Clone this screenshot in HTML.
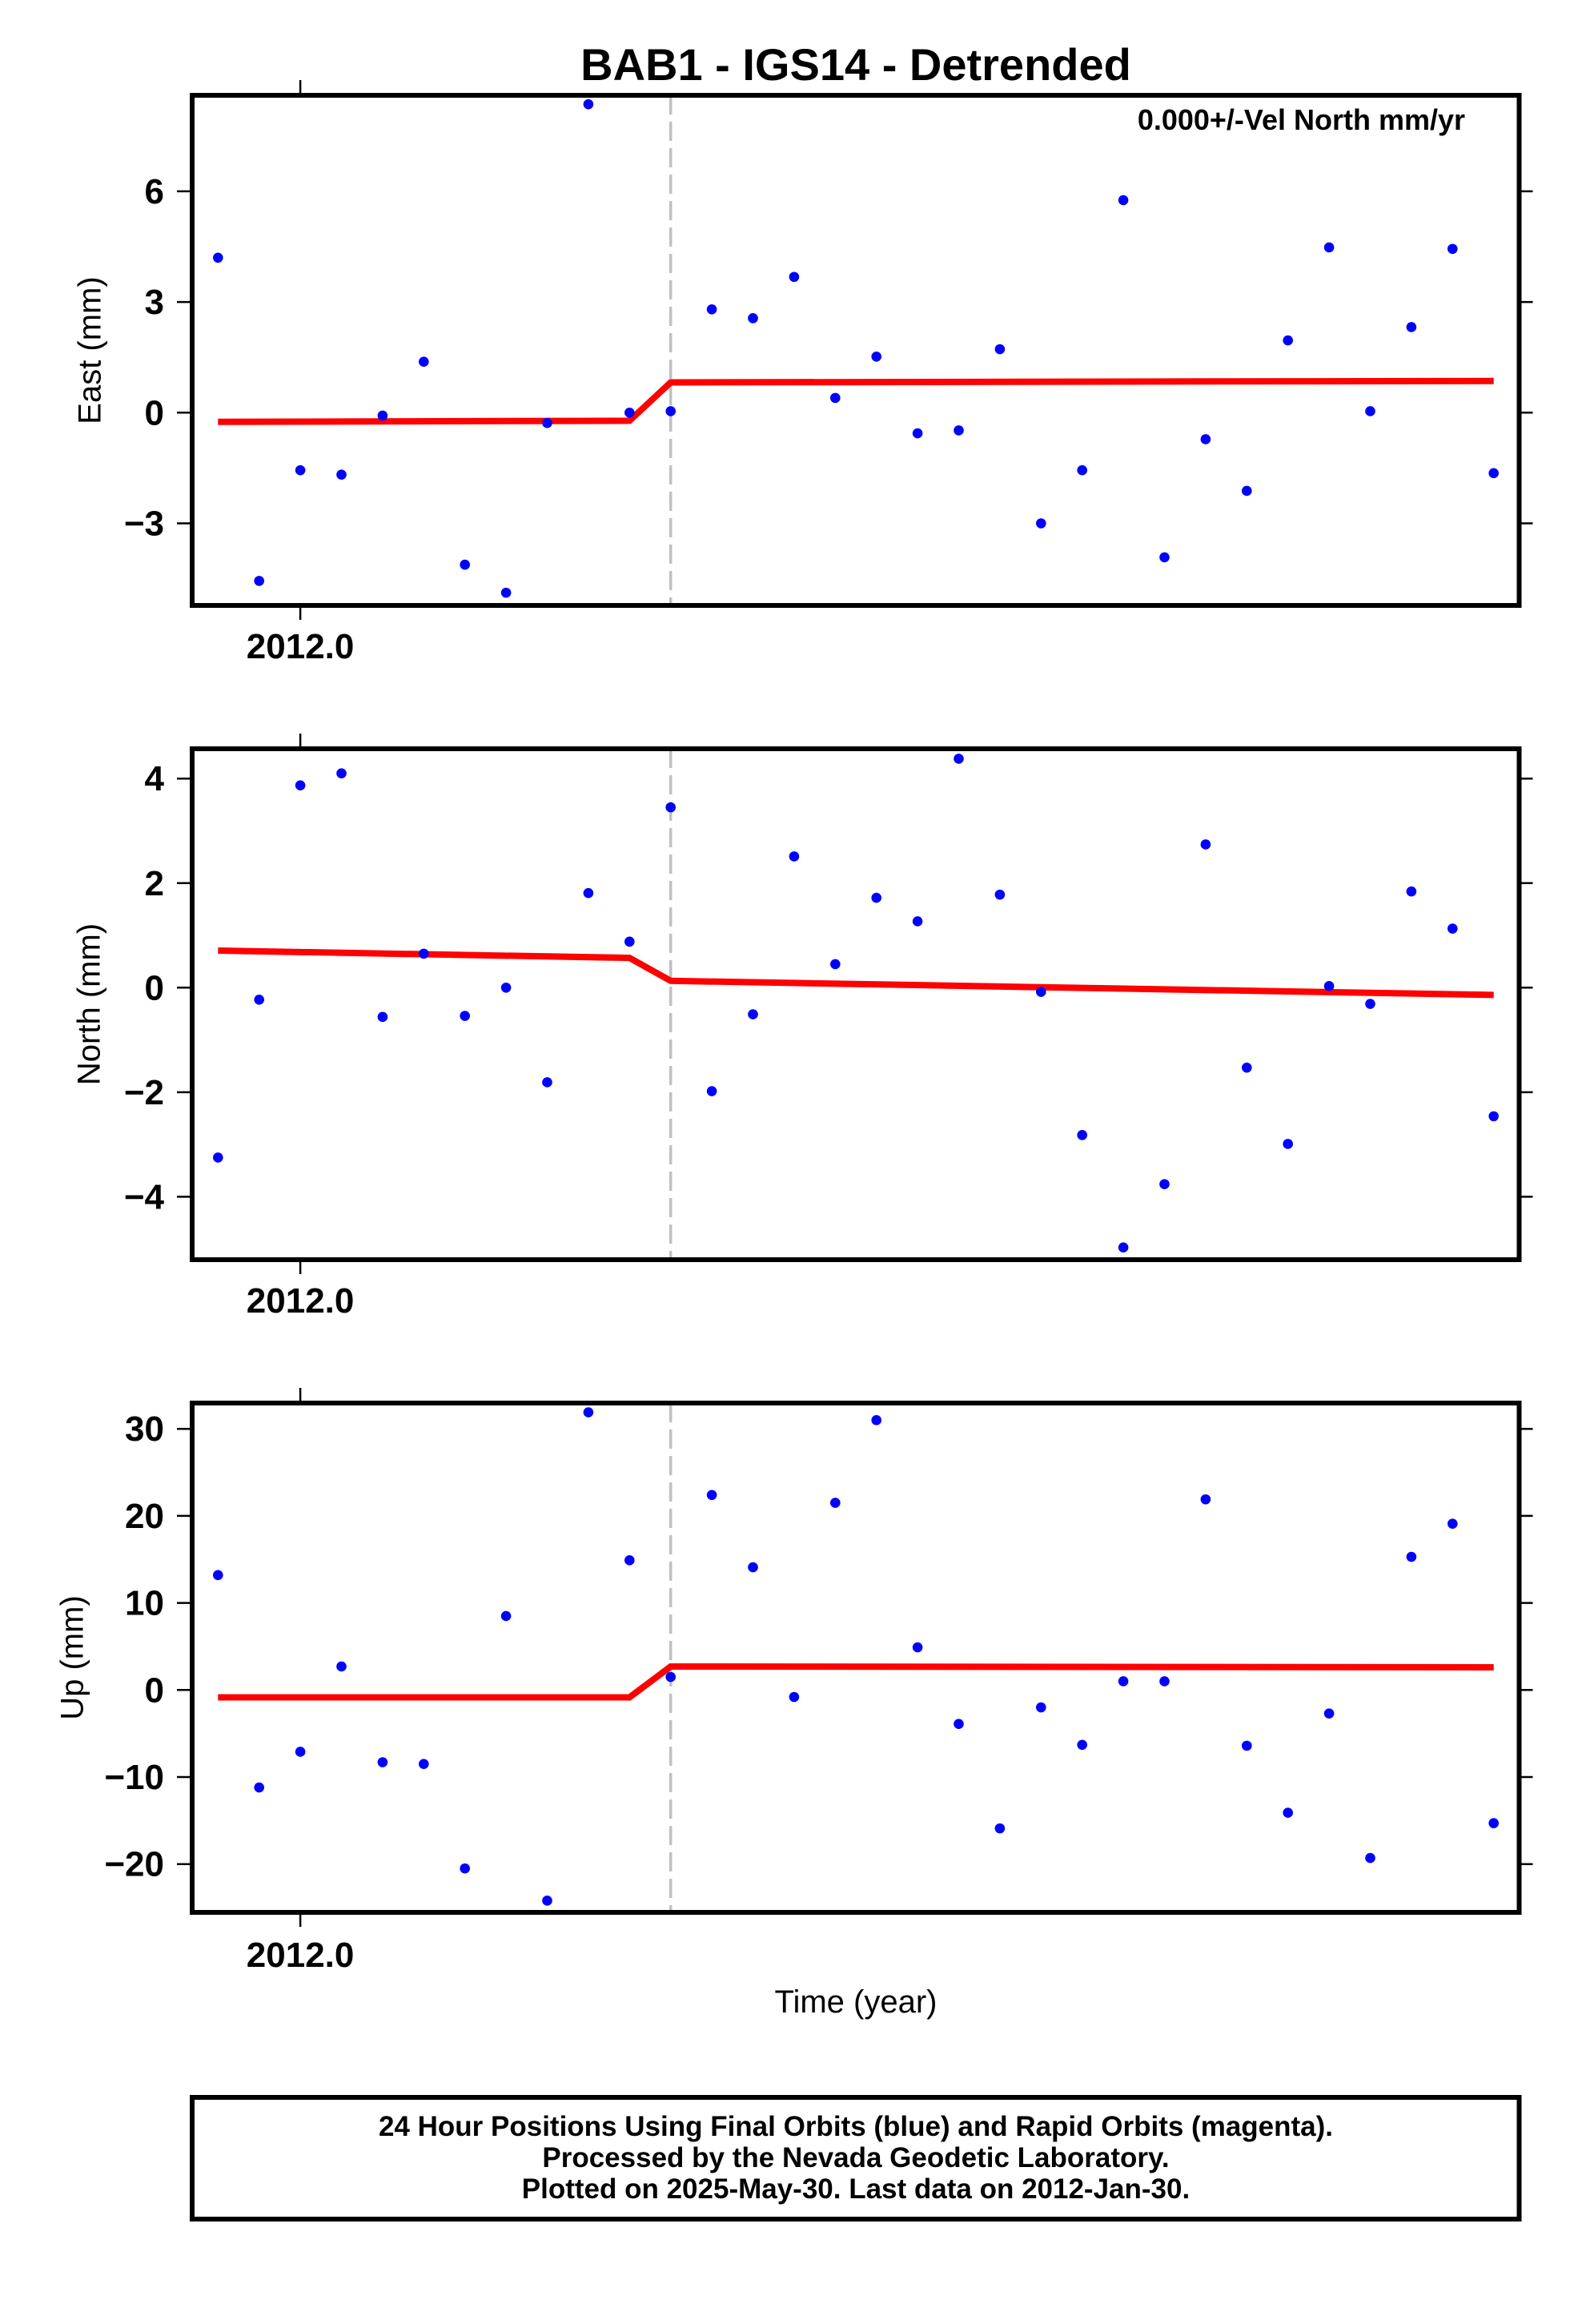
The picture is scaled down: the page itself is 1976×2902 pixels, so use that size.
<!DOCTYPE html>
<html><head><meta charset="utf-8"><style>
html,body{margin:0;padding:0;background:#fff;}
svg{display:block;font-family:"Liberation Sans",Arial,sans-serif;}
</style></head><body>
<svg id="chart" width="1976" height="2902" viewBox="0 0 1976 2902" xmlns="http://www.w3.org/2000/svg">
<text x="1069" y="100" text-anchor="middle" font-size="56" font-weight="bold">BAB1 - IGS14 - Detrended</text>
<g id="panels"></g>
<text x="1069" y="2513" text-anchor="middle" font-size="40">Time (year)</text>
<rect x="240" y="2619" width="1657.5" height="152" fill="none" stroke="#000" stroke-width="6"/>
<text x="1069" y="2667" text-anchor="middle" font-size="35" font-weight="bold">24 Hour Positions Using Final Orbits (blue) and Rapid Orbits (magenta).</text>
<text x="1069" y="2706" text-anchor="middle" font-size="35" font-weight="bold">Processed by the Nevada Geodetic Laboratory.</text>
<text x="1069" y="2745" text-anchor="middle" font-size="35" font-weight="bold">Plotted on 2025-May-30. Last data on 2012-Jan-30.</text>
</svg>
<script>
// day index 0 = 2011-Dec-30 ... 31 = 2012-Jan-30; 2012.0 tick at day index 2
const dayIdx = [0,1,2,3,4,5,6,7,8,9,10,11,12,13,14,15,16,17,18,19,20,21,22,23,24,25,26,27,28,29,30,31];
const eastVals = [4.2,-4.56,-1.56,-1.68,-0.08,1.38,-4.12,-4.88,-0.28,8.36,0.0,0.04,2.8,2.56,3.68,0.4,1.52,-0.56,-0.48,1.72,-3.0,-1.56,5.76,-3.92,-0.72,-2.12,1.96,4.48,0.04,2.32,4.44,-1.64];
const northVals = [-3.25,-0.23,3.87,4.1,-0.56,0.65,-0.54,0.0,-1.81,1.81,0.88,3.45,-1.98,-0.51,2.51,0.45,1.72,1.27,4.38,1.78,-0.08,-2.82,-4.97,-3.76,2.74,-1.53,-2.99,0.03,-0.31,1.84,1.13,-2.46];
const upVals = [13.2,-11.2,-7.1,2.7,-8.3,-8.5,-20.5,8.5,-24.2,31.9,14.9,1.5,22.4,14.1,-0.8,21.5,31.0,4.9,-3.9,-15.9,-2.0,-6.3,1.0,1.0,21.9,-6.4,-14.1,-2.7,-19.3,15.3,19.1,-15.3];
const modelIdx = [0,10,11,31];
const eastModel = [-0.25,-0.22,0.82,0.86];
const northModel = [0.71,0.57,0.13,-0.14];
const upModel = [-0.85,-0.85,2.7,2.6];
const eastTicks = [6,3,0,-3];
const northTicks = [4,2,0,-2,-4];
const upTicks = [30,20,10,0,-10,-20];
const eastTickLabels = ["6","3","0","\u22123"];
const northTickLabels = ["4","2","0","\u22122","\u22124"];
const upTickLabels = ["30","20","10","0","\u221210","\u221220"];
const xTickIdx = [2];
const xTickLabels = ["2012.0"];
const breakIdx = 11;

const NS = "http://www.w3.org/2000/svg";
const root = document.getElementById("panels");
const L = 240, R = 1897.5;
function xOf(i){ return 272.3 + i*51.4; }
function mk(tag, attrs, parent){
  const e = document.createElementNS(NS, tag);
  for (const k in attrs) e.setAttribute(k, attrs[k]);
  parent.appendChild(e);
  return e;
}
const panels = [
  {key:"east", title:"East (mm)", titleX:115, top:119, bot:756, y0:515.3, k:46.07, vals:eastVals, model:eastModel, ticks:eastTicks, labels:eastTickLabels, labelY:822},
  {key:"north", title:"North (mm)", titleX:114, top:935, bot:1573, y0:1233.3, k:65.27, vals:northVals, model:northModel, ticks:northTicks, labels:northTickLabels, labelY:1639},
  {key:"up", title:"Up (mm)", titleX:93, top:1752, bot:2388, y0:2110.3, k:10.87, vals:upVals, model:upModel, ticks:upTicks, labels:upTickLabels, labelY:2456}
];
panels.forEach(p => {
  const g = mk("g", {}, root);
  
  
  const yOf = v => p.y0 - v*p.k;
  const dl = mk("line", {x1:xOf(breakIdx), x2:xOf(breakIdx), y1:p.top, y2:p.bot, stroke:"#c0c0c0", "stroke-width":3.5, "stroke-dasharray":"24 9"}, g);
  
  
  const pts = modelIdx.map((d,j)=> xOf(d).toFixed(1)+","+yOf(p.model[j]).toFixed(1)).join(" ");
  const ml = mk("polyline", {points:pts, fill:"none", stroke:"#ff0000", "stroke-width":8}, g);
  
  
  p.vals.forEach((v,j) => {
    const c = mk("circle", {cx:xOf(dayIdx[j]), cy:yOf(v), r:6.3, fill:"#0000ff"}, g);
    
    
  });
  const fr = mk("rect", {x:L, y:p.top, width:R-L, height:p.bot-p.top, fill:"none", stroke:"#000", "stroke-width":6}, g);
  
  
  p.ticks.forEach((t,j) => {
    const y = yOf(t);
    const tl = mk("line", {x1:221, x2:L, y1:y, y2:y, stroke:"#000", "stroke-width":2.5}, g);
    
    
    const tr = mk("line", {x1:R, x2:R+17, y1:y, y2:y, stroke:"#000", "stroke-width":2.5}, g);
    
    
    const tx = mk("text", {x:205, y:y+15, "text-anchor":"end", "font-size":44, "font-weight":"bold"}, g);
    tx.textContent = p.labels[j];
    
    
  });
  xTickIdx.forEach((d,j) => {
    const x = xOf(d);
    const t1 = mk("line", {x1:x, x2:x, y1:p.top-19, y2:p.top, stroke:"#000", "stroke-width":2.5}, g);
    
    
    const t2 = mk("line", {x1:x, x2:x, y1:p.bot, y2:p.bot+18, stroke:"#000", "stroke-width":2.5}, g);
    
    
    const lb = mk("text", {x:x, y:p.labelY, "text-anchor":"middle", "font-size":44, "font-weight":"bold"}, g);
    lb.textContent = xTickLabels[j];
    
    
  });
  const cy = (p.top+p.bot)/2;
  const yt = mk("text", {x:p.titleX, y:cy, "text-anchor":"middle", "font-size":40, transform:"rotate(-90 "+p.titleX+" "+cy+")", "dominant-baseline":"middle"}, g);
  yt.textContent = p.title;
  
  
  if (p.key === "east") {
    const vt = mk("text", {x:1830, y:162, "text-anchor":"end", "font-size":36, "font-weight":"bold"}, g);
    vt.textContent = "0.000+/-Vel North mm/yr";
    
    
  }
});
</script>
</body></html>
